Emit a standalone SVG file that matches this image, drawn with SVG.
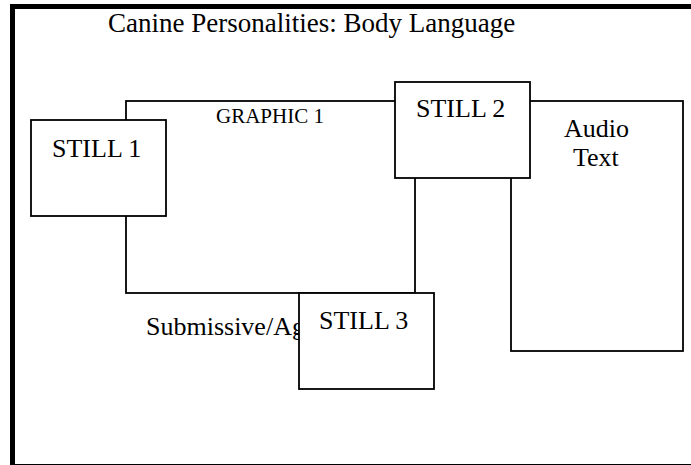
<svg xmlns="http://www.w3.org/2000/svg" width="691" height="465" viewBox="0 0 691 465">
  <style>
    .box { fill: #ffffff; stroke: #000000; stroke-width: 1.8; }
    .frame { fill: none; stroke: #000000; stroke-width: 1.8; }
    .lbl { font-family: "Liberation Serif", "Times New Roman", serif; font-size: 26px; fill: #000000; }
    .small { font-family: "Liberation Serif", "Times New Roman", serif; font-size: 21px; fill: #000000; }
  </style>
  <rect width="691" height="465" fill="#ffffff"/>

  <!-- page border, heavy on the top and left -->
  <rect x="12.5" y="6.5" width="700" height="460" fill="none" stroke="#000000" stroke-width="5"/>

  <text class="lbl" x="108" y="32" style="font-size:27px">Canine Personalities: Body Language</text>

  <!-- graphic frame behind the stills -->
  <g id="graphic1">
    <rect class="frame" x="126" y="101" width="289" height="192"/>
    <text class="small" x="216" y="122.5">GRAPHIC 1</text>
  </g>

  <!-- audio text panel -->
  <g id="audio-text">
    <rect class="box" x="511" y="101" width="172" height="250"/>
    <text class="lbl" x="564" y="137">Audio</text>
    <text class="lbl" x="573" y="166">Text</text>
  </g>

  <!-- caption, partly covered by STILL 3 -->
  <g id="caption">
    <text class="lbl" x="146" y="335">Submissive/Ag</text>
  </g>

  <g id="still1">
    <rect class="box" x="31" y="120" width="135" height="96"/>
    <text class="lbl" x="52" y="157">STILL 1</text>
  </g>

  <g id="still2">
    <rect class="box" x="395" y="82" width="135" height="96"/>
    <text class="lbl" x="416" y="117">STILL 2</text>
  </g>

  <g id="still3">
    <rect class="box" x="299" y="293" width="135" height="96"/>
    <text class="lbl" x="319" y="329">STILL 3</text>
  </g>
</svg>
